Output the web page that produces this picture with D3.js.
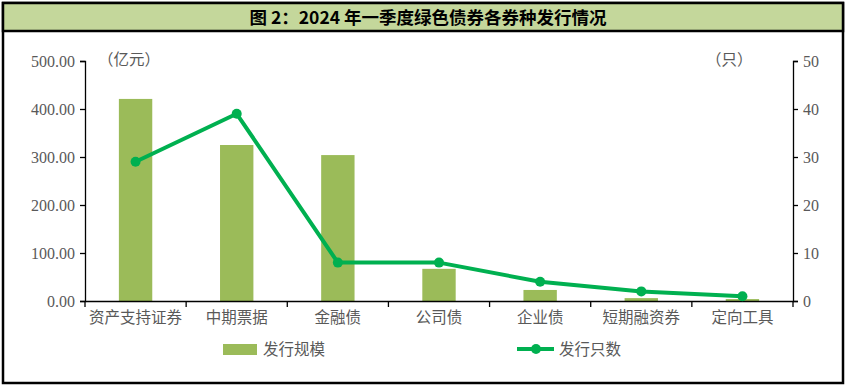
<!DOCTYPE html>
<html><head><meta charset="utf-8">
<script src="https://cdn.jsdelivr.net/npm/d3@7"></script>
<style>body{margin:0;background:#fff}svg{display:block}</style>
</head><body>
<script>
const categories = ["资产支持证券","中期票据","金融债","公司债","企业债","短期融资券","定向工具"];
const amountValues = [421, 325, 304, 67, 23, 6, 4];
const countValues = [29, 39, 8, 8, 4, 2, 1];
const leftTicks = [0,100,200,300,400,500];
const rightTicks = [0,10,20,30,40,50];
const titleText = "图 2：2024 年一季度绿色债券各券种发行情况";
const seriesNames = ["发行规模","发行只数"];

const W=849,H=389;
const svg=d3.select("body").append("svg").attr("width",W).attr("height",H);
// frame
svg.append("rect").attr("x",3).attr("y",3).attr("width",840).attr("height",380).attr("fill","#fff").attr("stroke","#000").attr("stroke-width",2.5);
svg.append("rect").attr("x",3).attr("y",3).attr("width",840).attr("height",28).attr("fill","#c4d79b").attr("stroke","#000").attr("stroke-width",2.5);
svg.append("text").attr("x",428).attr("y",23.5).attr("text-anchor","middle")
  .attr("font-family","'Noto Sans CJK SC'").attr("font-weight","bold").attr("font-size",17.5).attr("fill","#000").text(titleText);

const x0=85,x1=793,yTop=61,yBot=301;
const x=d3.scaleBand().domain(categories).range([x0,x1]).paddingInner(0.67).paddingOuter(0.335);
const xb=d3.scaleBand().domain(categories).range([x0,x1]);
const yL=d3.scaleLinear().domain([0,500]).range([yBot,yTop]);
const yR=d3.scaleLinear().domain([0,50]).range([yBot,yTop]);

const numFont="'Liberation Serif'";
const gL=svg.append("g").attr("transform",`translate(${x0},0)`).call(d3.axisLeft(yL).tickValues(leftTicks).tickFormat(d3.format(".2f")).tickSizeOuter(0).tickSize(5));
const gR=svg.append("g").attr("transform",`translate(${x1},0)`).call(d3.axisRight(yR).tickValues(rightTicks).tickFormat(d3.format("d")).tickSizeOuter(0).tickSize(5));
[gL,gR].forEach(g=>{g.selectAll("text").attr("font-family",numFont).attr("font-size",16).attr("fill","#595959");
  g.selectAll("line,path").attr("stroke","#000").attr("stroke-width",1.3);});
gL.selectAll("text").attr("x",-10);
gR.selectAll("text").attr("x",10);

// bars
svg.append("g").selectAll("rect").data(amountValues).join("rect")
  .attr("x",(d,i)=>x(categories[i])).attr("width",x.bandwidth())
  .attr("y",d=>yL(d)).attr("height",d=>yBot-yL(d)).attr("fill","#9bbb59");

// x axis
const gX=svg.append("g").attr("transform",`translate(0,${yBot})`).call(d3.axisBottom(xb).tickSize(0).tickSizeOuter(0));
gX.select("path").attr("stroke","#000").attr("stroke-width",1.5);
gX.selectAll("text").attr("font-family","'Noto Sans CJK SC'").attr("font-size",15.5).attr("fill","#595959").attr("dy","1.05em").attr("y",6);
const bounds=categories.map(c=>xb(c)).concat([x1]);
svg.append("g").selectAll("line").data(bounds).join("line")
  .attr("x1",d=>d).attr("x2",d=>d).attr("y1",yBot).attr("y2",yBot+6).attr("stroke","#000").attr("stroke-width",1.3);

// line
const cx=(d,i)=>xb(categories[i])+xb.bandwidth()/2;
svg.append("path").datum(countValues).attr("fill","none").attr("stroke","#00b050").attr("stroke-width",4)
  .attr("stroke-linejoin","round").attr("d",d3.line().x(cx).y(d=>yR(d)));
svg.append("g").selectAll("circle").data(countValues).join("circle")
  .attr("cx",cx).attr("cy",d=>yR(d)).attr("r",5).attr("fill","#00b050");

// unit labels
svg.append("text").attr("x",98).attr("y",65).attr("font-family","'Noto Sans CJK SC'").attr("font-size",15.5).attr("fill","#595959").text("（亿元）");
svg.append("text").attr("x",706).attr("y",65).attr("font-family","'Noto Sans CJK SC'").attr("font-size",15.5).attr("fill","#595959").text("（只）");

// legend
svg.append("rect").attr("x",223).attr("y",344).attr("width",34).attr("height",11).attr("fill","#9bbb59");
svg.append("text").attr("x",263).attr("y",355).attr("font-family","'Noto Sans CJK SC'").attr("font-size",15.5).attr("fill","#595959").text(seriesNames[0]);
svg.append("line").attr("x1",517).attr("x2",554).attr("y1",349).attr("y2",349).attr("stroke","#00b050").attr("stroke-width",4);
svg.append("circle").attr("cx",536).attr("cy",349).attr("r",5).attr("fill","#00b050");
svg.append("text").attr("x",559).attr("y",355).attr("font-family","'Noto Sans CJK SC'").attr("font-size",15.5).attr("fill","#595959").text(seriesNames[1]);
</script>
</body></html>
